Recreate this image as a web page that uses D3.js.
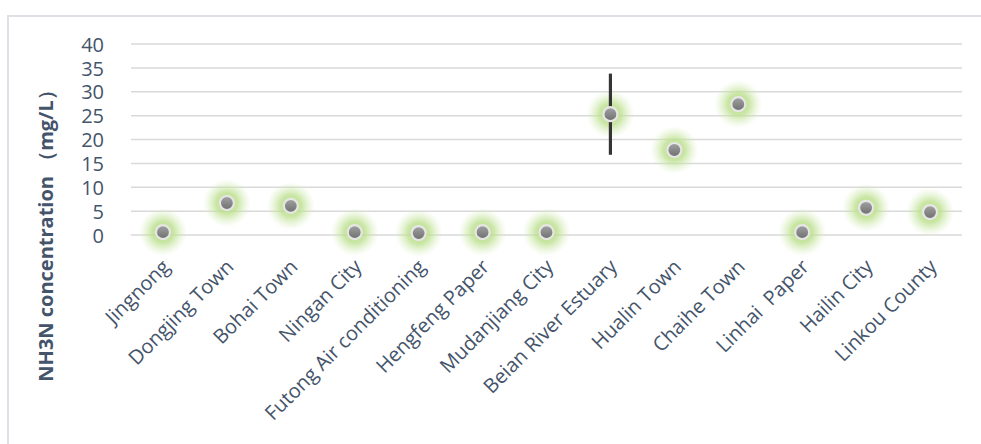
<!DOCTYPE html>
<html><head><meta charset="utf-8">
<script src="https://cdn.jsdelivr.net/npm/d3@7"></script>
<style>html,body{margin:0;padding:0;background:#fff;}svg{display:block;}</style>
</head><body>
<script>
const categories = ["Jingnong","Dongjing Town","Bohai Town","Ningan City","Futong Air conditioning","Hengfeng Paper","Mudanjiang City","Beian River Estuary","Hualin Town","Chaihe Town","Linhai  Paper","Hailin City","Linkou County"];
const values = [0.6, 6.7, 6.1, 0.6, 0.4, 0.6, 0.6, 25.3, 17.8, 27.4, 0.6, 5.7, 4.8];
const errors = [0, 0, 0, 0, 0, 0, 0, 8.5, 0, 0, 0, 0, 0];
const yTicks = [0, 5, 10, 15, 20, 25, 30, 35, 40];
const yTitle = "NH3N concentration （mg/L）";

const W = 981, H = 444;
const svg = d3.select("body").append("svg").attr("width", W).attr("height", H);
const defs = svg.append("defs");
const glow = defs.append("radialGradient").attr("id", "glow");
glow.append("stop").attr("offset", "0%").attr("stop-color", "#b0da7c").attr("stop-opacity", 0.95);
glow.append("stop").attr("offset", "45%").attr("stop-color", "#bde08f").attr("stop-opacity", 0.8);
glow.append("stop").attr("offset", "100%").attr("stop-color", "#d6edbc").attr("stop-opacity", 0);
const dot = defs.append("linearGradient").attr("id", "dot").attr("x1", 0).attr("y1", 0).attr("x2", 0).attr("y2", 1);
dot.append("stop").attr("offset", "0%").attr("stop-color", "#a3a3a3");
dot.append("stop").attr("offset", "100%").attr("stop-color", "#6e6e6e");

// frame
svg.append("path").attr("d", `M8,${H+5} V16 H${W+5}`).attr("fill", "none").attr("stroke", "#dde1e6").attr("stroke-width", 2);

const x = d3.scaleBand().domain(categories).range([131, 962]);
const y = d3.scaleLinear().domain([0, 40]).range([235, 44]);

// gridlines
svg.append("g").selectAll("line").data(yTicks).join("line")
  .attr("x1", 131).attr("x2", 962)
  .attr("y1", d => y(d)).attr("y2", d => y(d))
  .attr("stroke", "#d9d9d9").attr("stroke-width", 1.5);

// y axis
const ya = svg.append("g").attr("transform", "translate(104,0)")
  .call(d3.axisLeft(y).tickValues(yTicks).tickSize(0).tickPadding(0));
ya.select(".domain").remove();
ya.selectAll("text").attr("font-family", "'Open Sans', sans-serif").attr("font-size", 20).attr("fill", "#44546a").attr("dy", "0.36em");

// x axis labels
const xa = svg.append("g").attr("transform", "translate(0,235)")
  .call(d3.axisBottom(x).tickSize(0).tickPadding(0));
xa.select(".domain").remove();
xa.selectAll(".tick text")
  .attr("font-family", "'Open Sans', sans-serif").attr("font-size", 20).attr("fill", "#44546a")
  .attr("text-anchor", "end").style("white-space", "pre")
  .attr("y", 0).attr("dy", 0)
  .attr("transform", "translate(8,33) rotate(-45)");

// y title
svg.append("text").attr("transform", "translate(53,231) rotate(-90)")
  .attr("text-anchor", "middle").attr("font-family", "'Open Sans', sans-serif")
  .attr("font-weight", "bold").attr("font-size", 20).attr("fill", "#44546a")
  .text(yTitle);

const pts = categories.map((c, i) => ({c, v: values[i], e: errors[i]}));
const cx = d => x(d.c) + x.bandwidth() / 2;

// glows
svg.append("g").selectAll("circle").data(pts).join("circle")
  .attr("cx", cx).attr("cy", d => y(d.v)).attr("r", 24).attr("fill", "url(#glow)");

// error bars
svg.append("g").selectAll("line").data(pts.filter(d => d.e > 0)).join("line")
  .attr("x1", cx).attr("x2", cx)
  .attr("y1", d => y(d.v + d.e)).attr("y2", d => y(d.v - d.e))
  .attr("stroke", "#353535").attr("stroke-width", 3.2);

// markers
svg.append("g").selectAll("circle").data(pts).join("circle")
  .attr("cx", cx).attr("cy", d => y(d.v)).attr("r", 7)
  .attr("fill", "url(#dot)").attr("stroke", "#e6e6e6").attr("stroke-width", 2.2);
</script>
</body></html>
